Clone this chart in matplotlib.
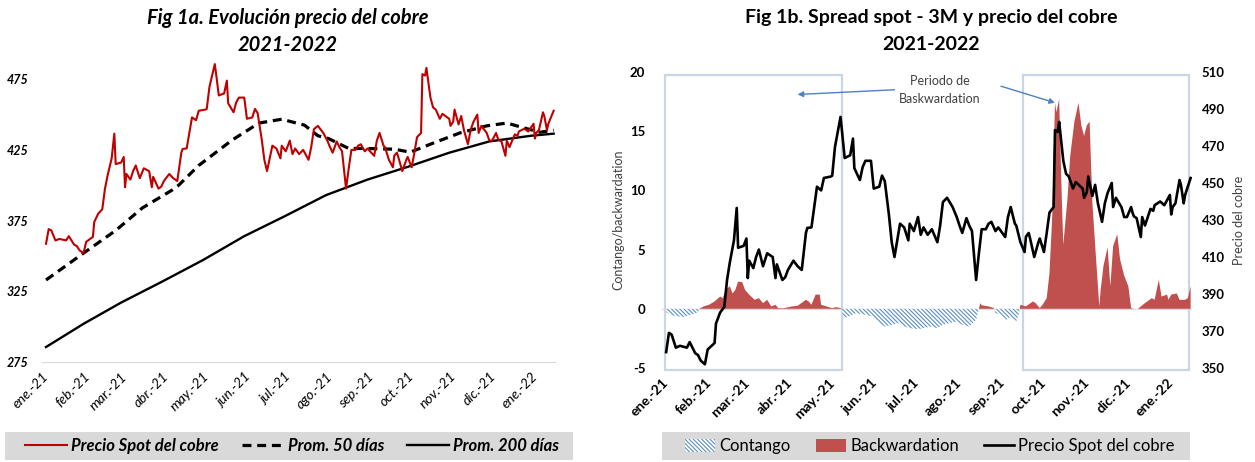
import matplotlib
matplotlib.use("Agg")
import matplotlib.pyplot as plt
import pandas as pd
from matplotlib.patches import Rectangle, Patch
from matplotlib.lines import Line2D

# ---------------- data ----------------
month_labels = ["ene.-21", "feb.-21", "mar.-21", "abr.-21", "may.-21", "jun.-21", "jul.-21",
                "ago.-21", "sep.-21", "oct.-21", "nov.-21", "dic.-21", "ene.-22"]

spot_dates = ["2021-01-04", "2021-01-06", "2021-01-08", "2021-01-11", "2021-01-14", "2021-01-19", "2021-01-21",
              "2021-01-25", "2021-01-27", "2021-01-29", "2021-02-01", "2021-02-03", "2021-02-08", "2021-02-09",
              "2021-02-12", "2021-02-15", "2021-02-17", "2021-02-19", "2021-02-22", "2021-02-24", "2021-02-25",
              "2021-03-01", "2021-03-03", "2021-03-04", "2021-03-05", "2021-03-08", "2021-03-10", "2021-03-12",
              "2021-03-15", "2021-03-18", "2021-03-22", "2021-03-24", "2021-03-25", "2021-03-29", "2021-03-31",
              "2021-04-02", "2021-04-06", "2021-04-09", "2021-04-12", "2021-04-15", "2021-04-16", "2021-04-19",
              "2021-04-21", "2021-04-23", "2021-04-26", "2021-04-28", "2021-05-03", "2021-05-04", "2021-05-06",
              "2021-05-10", "2021-05-11", "2021-05-13", "2021-05-17", "2021-05-19", "2021-05-20", "2021-05-24",
              "2021-05-26", "2021-05-28", "2021-06-01", "2021-06-03", "2021-06-07", "2021-06-09", "2021-06-11",
              "2021-06-14", "2021-06-16", "2021-06-18", "2021-06-22", "2021-06-25", "2021-06-28", "2021-06-29",
              "2021-07-02", "2021-07-05", "2021-07-07", "2021-07-09", "2021-07-12", "2021-07-15", "2021-07-19",
              "2021-07-21", "2021-07-23", "2021-07-26", "2021-07-30", "2021-08-02", "2021-08-04", "2021-08-06",
              "2021-08-09", "2021-08-11", "2021-08-13", "2021-08-16", "2021-08-18", "2021-08-20", "2021-08-23",
              "2021-08-25", "2021-08-27", "2021-08-30", "2021-09-01", "2021-09-06", "2021-09-08", "2021-09-10",
              "2021-09-13", "2021-09-14", "2021-09-17", "2021-09-20", "2021-09-21", "2021-09-23", "2021-09-24",
              "2021-09-27", "2021-09-30", "2021-10-01", "2021-10-04", "2021-10-06", "2021-10-08", "2021-10-11",
              "2021-10-12", "2021-10-14", "2021-10-15", "2021-10-18", "2021-10-20", "2021-10-22", "2021-10-25",
              "2021-10-27", "2021-11-01", "2021-11-02", "2021-11-04", "2021-11-05", "2021-11-08", "2021-11-10",
              "2021-11-12", "2021-11-15", "2021-11-17", "2021-11-19", "2021-11-22", "2021-11-23", "2021-11-25",
              "2021-11-29", "2021-12-01", "2021-12-03", "2021-12-06", "2021-12-07", "2021-12-08", "2021-12-10",
              "2021-12-13", "2021-12-14", "2021-12-16", "2021-12-20", "2021-12-22", "2021-12-23", "2021-12-27",
              "2021-12-30", "2022-01-03", "2022-01-04", "2022-01-05", "2022-01-07", "2022-01-10", "2022-01-11",
              "2022-01-13", "2022-01-14", "2022-01-18"]
spot_prices = [358.6, 369, 368, 361, 362, 361, 364,
               358, 357, 354, 352, 360, 363.5, 374,
               380, 383, 397.5, 407, 419, 436.5, 415,
               416, 420, 398.6, 408, 404, 410, 414,
               405, 412, 410, 398.6, 406, 397.6, 399,
               403, 408, 405, 403, 423, 425.7, 426,
               437, 448, 446, 452.7, 453.5, 454, 469.5,
               485.7, 478.6, 463.5, 465, 474, 458, 451.6,
               458.6, 462, 462, 447, 448, 454, 451,
               432.7, 418, 410, 428, 426, 419, 428,
               424, 431.6, 422, 426, 422, 425, 418,
               427, 439.7, 442, 437, 431.6, 427, 423,
               431, 427, 424, 397.6, 412, 425, 425,
               428, 429, 424, 426, 420.8, 431.6, 437,
               428, 427, 418, 412.7, 421, 423, 420,
               410, 418, 420, 412.7, 423, 434, 437,
               478.6, 477.6, 483, 462, 455, 453.5, 447,
               450.5, 447, 442, 445, 453.5, 443, 449,
               439, 429, 439, 444.6, 450, 437, 442,
               437, 431.6, 431.6, 437, 434, 432, 431,
               420.8, 431.6, 427, 436, 435, 438, 440,
               438, 443.5, 433, 437, 439, 451.6, 449,
               439, 443.5, 452.7]

ma50_dates = ["2021-01-04", "2021-02-01", "2021-02-25", "2021-03-17", "2021-04-08", "2021-04-13", "2021-04-28",
              "2021-05-23", "2021-06-12", "2021-06-29", "2021-07-16", "2021-07-26", "2021-08-03", "2021-08-18",
              "2021-09-01", "2021-09-21", "2021-10-03", "2021-10-20", "2021-11-09", "2021-11-29", "2021-12-14",
              "2021-12-29", "2022-01-08", "2022-01-18"]
ma50_values = [333, 352, 368, 384, 396.5, 400, 414,
               432, 444, 446.7, 442.5, 435, 433, 426,
               426, 425.5, 423.4, 429.8, 437, 442, 444,
               440, 437.5, 439]

ma200_dates = ["2021-01-04", "2021-02-01", "2021-03-01", "2021-04-01", "2021-05-01", "2021-06-01", "2021-07-01",
               "2021-08-01", "2021-09-01", "2021-10-01", "2021-11-01", "2021-12-01", "2022-01-01", "2022-01-18"]
ma200_values = [285.6, 302, 317, 332, 347, 364, 378,
                393, 404, 413, 423, 431, 435, 436.5]

spread_dates = ["2021-01-04", "2021-01-10", "2021-01-17", "2021-01-22", "2021-01-27", "2021-01-28", "2021-01-31",
                "2021-02-04", "2021-02-08", "2021-02-12", "2021-02-14", "2021-02-16", "2021-02-19", "2021-02-21",
                "2021-02-23", "2021-02-25", "2021-02-28", "2021-03-02", "2021-03-05", "2021-03-09", "2021-03-12",
                "2021-03-15", "2021-03-18", "2021-03-21", "2021-03-24", "2021-03-26", "2021-03-30", "2021-04-05",
                "2021-04-09", "2021-04-15", "2021-04-17", "2021-04-19", "2021-04-22", "2021-04-25", "2021-04-26",
                "2021-04-30", "2021-05-04", "2021-05-07", "2021-05-10", "2021-05-11", "2021-05-12", "2021-05-16",
                "2021-05-21", "2021-05-28", "2021-06-02", "2021-06-07", "2021-06-11", "2021-06-16", "2021-06-21",
                "2021-06-25", "2021-06-30", "2021-07-05", "2021-07-09", "2021-07-14", "2021-07-19", "2021-07-23",
                "2021-07-28", "2021-08-02", "2021-08-06", "2021-08-11", "2021-08-16", "2021-08-18", "2021-08-19",
                "2021-08-20", "2021-08-25", "2021-08-29", "2021-08-30", "2021-09-03", "2021-09-07", "2021-09-10",
                "2021-09-14", "2021-09-16", "2021-09-17", "2021-09-21", "2021-09-26", "2021-09-28", "2021-10-01",
                "2021-10-03", "2021-10-06", "2021-10-08", "2021-10-10", "2021-10-12", "2021-10-13", "2021-10-15",
                "2021-10-17", "2021-10-18", "2021-10-21", "2021-10-23", "2021-10-26", "2021-10-29", "2021-10-31",
                "2021-11-02", "2021-11-04", "2021-11-06", "2021-11-08", "2021-11-10", "2021-11-13", "2021-11-14",
                "2021-11-16", "2021-11-19", "2021-11-21", "2021-11-23", "2021-11-26", "2021-11-28", "2021-12-01",
                "2021-12-04", "2021-12-06", "2021-12-08", "2021-12-10", "2021-12-13", "2021-12-16", "2021-12-21",
                "2021-12-23", "2021-12-26", "2021-12-28", "2022-01-01", "2022-01-02", "2022-01-04", "2022-01-08",
                "2022-01-10", "2022-01-14", "2022-01-16", "2022-01-18"]
spread_values = [-0.3, -0.6, -0.7, -0.5, -0.3, 0.0, 0.2,
                 0.34, 0.62, 1.04, 0.9, 1.6, 1.9, 1.3,
                 1.6, 2.3, 2.25, 1.6, 1.2, 0.76, 0.9,
                 0.48, 0.76, 0.2, 0.34, 0.06, 0.05, 0.2,
                 0.25, 0.76, 0.62, 0.34, 1.2, 1.2, 0.34,
                 0.2, 0.06, 0.14, 0.06, 0.0, -0.8, -0.65,
                 -0.37, -0.5, -0.65, -1.2, -1.5, -1.35, -1.2,
                 -1.5, -1.64, -1.72, -1.64, -1.5, -1.64, -1.35,
                 -1.2, -1.07, -1.35, -1.5, -0.93, 0.0, 0.48,
                 0.3, 0.2, 0.06, -0.37, -0.5, -0.93, -0.65,
                 -1.07, -0.37, 0.34, 0.2, 0.62, 0.48, 0.06,
                 0.34, 0.9, 3.0, 7.8, 17.4, 16.6, 17.7,
                 9.0, 5.4, 9.3, 12.9, 15.8, 17.4, 15.5,
                 14.6, 15.5, 15.8, 9.0, 5.4, 0.2, 1.6,
                 3.6, 5.2, 1.9, 5.3, 6.3, 4.2, 2.8,
                 1.9, 0.06, 0.0, -0.1, 0.2, 0.48, 0.9,
                 0.76, 2.45, 1.04, 1.2, 0.76, 1.2, 1.3,
                 0.76, 0.76, 0.9, 1.9]

# highlighted periods (start, end)
period_starts = ["2021-01-03", "2021-09-19"]
period_ends = ["2021-05-11", "2022-01-17"]

# ---------------- style ----------------
plt.rcParams['font.family'] = ['Lato', 'DejaVu Sans']
plt.rcParams['hatch.linewidth'] = 0.8

RED = "#c00000"
BW_RED = "#c0504d"
CONT_BLUE = "#5b8fc2"
BOX = "#c9d6e6"
GRAY_LEG = "#d9d9d9"
HATCH = "\\" * 8

W, H = 1255, 462
fig = plt.figure(figsize=(W / 100, H / 100), dpi=100)

to_dt = pd.to_datetime
months = pd.date_range("2021-01-01", "2022-01-01", freq="MS")
xlim = (to_dt("2021-01-01"), to_dt("2022-01-19"))

# ---------------- left chart ----------------
axL = fig.add_axes([42 / W, 1 - 362 / H, 513 / W, (362 - 58) / H])
axL.plot(to_dt(spot_dates), spot_prices, color=RED, lw=1.5, zorder=3)
axL.plot(to_dt(ma50_dates), ma50_values, color="black", lw=2.3, ls=(0, (2.8, 1.8)), zorder=2)
axL.plot(to_dt(ma200_dates), ma200_values, color="black", lw=1.7, zorder=2)
axL.set_xlim(*xlim)
axL.set_ylim(275, 490)
axL.set_yticks([275, 325, 375, 425, 475])
axL.set_yticklabels([str(v) for v in [275, 325, 375, 425, 475]],
                    fontsize=9, fontweight="bold", fontstyle="italic")
axL.set_xticks(months)
axL.set_xticklabels(month_labels, rotation=45, ha="right", rotation_mode="anchor",
                    fontsize=10, fontstyle="italic")
axL.tick_params(axis="both", length=0)
axL.tick_params(axis="y", pad=10)
axL.tick_params(axis="x", pad=6)
for s in ["top", "right", "left"]:
    axL.spines[s].set_visible(False)
axL.spines["bottom"].set_color(GRAY_LEG)

fig.text(288 / W, 1 - 18 / H, "Fig 1a. Evolución precio del cobre", ha="center", va="center",
         fontsize=14.5, fontweight="bold", fontstyle="italic")
fig.text(288 / W, 1 - 45 / H, "2021-2022", ha="center", va="center",
         fontsize=14.5, fontweight="bold", fontstyle="italic")

fig.add_artist(Rectangle((5 / W, 2 / H), 568 / W, 28 / H, transform=fig.transFigure,
                         facecolor=GRAY_LEG, edgecolor="none", zorder=0))
hL = [Line2D([], [], color=RED, lw=1.5),
      Line2D([], [], color="black", lw=2.3, ls=(0, (2.8, 1.8))),
      Line2D([], [], color="black", lw=1.7)]
fig.legend(hL, ["Precio Spot del cobre", "Prom. 50 días", "Prom. 200 días"],
           loc="center", bbox_to_anchor=(292 / W, 16 / H), ncol=3, frameon=False,
           prop=dict(weight="bold", style="italic", size=12),
           handlelength=2.5, handletextpad=0.25, columnspacing=1.4)

# ---------------- right chart ----------------
axR = fig.add_axes([662 / W, 1 - 368 / H, 530 / W, 296 / H])
sd = to_dt(spread_dates)
sv = pd.Series(spread_values).values
axR.fill_between(sd, sv, 0, where=sv >= 0, interpolate=True, color=BW_RED, lw=0, zorder=2)
axR.fill_between(sd, sv, 0, where=sv <= 0, interpolate=True, facecolor="white",
                 edgecolor=CONT_BLUE, hatch=HATCH, lw=0, zorder=2)
axR.axhline(0, color=GRAY_LEG, lw=0.8, zorder=1)
axR.set_xlim(*xlim)
axR.set_ylim(-5, 20)
axR.set_yticks([-5, 0, 5, 10, 15, 20])
axR.set_yticklabels(["-5", "0", "5", "10", "15", "20"], fontsize=9.5, fontweight="bold")
axR.set_xticks(months)
axR.set_xticklabels(month_labels, rotation=45, ha="right", rotation_mode="anchor",
                    fontsize=10, fontweight="bold")
axR.tick_params(axis="both", length=0)
axR.tick_params(axis="y", pad=12)
axR.tick_params(axis="x", pad=6)
axR.set_ylabel("Contango/backwardation", fontsize=9, color="#404040", labelpad=4)
for s in axR.spines.values():
    s.set_visible(False)

for a, b in zip(period_starts, period_ends):
    x0 = to_dt(a)
    x1 = to_dt(b)
    axR.add_patch(Rectangle((x0, -5.15), x1 - x0, 24.9, fill=False, edgecolor=BOX,
                            lw=1.6, clip_on=False, zorder=1))

axR.text(to_dt("2021-07-21"), 18.5, "Periodo de\nBaskwardation", ha="center", va="center",
         fontsize=9, color="#404040", linespacing=1.6)
axR.annotate("", xy=(to_dt("2021-04-09"), 18.1), xytext=(to_dt("2021-06-18"), 18.5),
             arrowprops=dict(arrowstyle="-|>", color="#4f81bd", lw=1, mutation_scale=8,
                             shrinkA=0, shrinkB=0))
axR.annotate("", xy=(to_dt("2021-10-12"), 17.4), xytext=(to_dt("2021-09-03"), 18.8),
             arrowprops=dict(arrowstyle="-|>", color="#4f81bd", lw=1, mutation_scale=8,
                             shrinkA=0, shrinkB=0))

axR2 = axR.twinx()
axR2.plot(to_dt(spot_dates), spot_prices, color="black", lw=1.9, zorder=3)
axR2.set_ylim(350, 510)
axR2.set_yticks(list(range(350, 511, 20)))
axR2.set_yticklabels([str(v) for v in range(350, 511, 20)], fontsize=9.5, fontweight="bold")
axR2.tick_params(axis="y", length=0, pad=7)
axR2.set_ylabel("Precio del cobre", fontsize=9, color="#404040", labelpad=6)
for s in axR2.spines.values():
    s.set_visible(False)
axR2.set_xlim(*xlim)

fig.text(931 / W, 1 - 18 / H, "Fig 1b. Spread spot - 3M y precio del cobre", ha="center",
         va="center", fontsize=14, fontweight="bold")
fig.text(931 / W, 1 - 45 / H, "2021-2022", ha="center", va="center",
         fontsize=14, fontweight="bold")

fig.add_artist(Rectangle((662 / W, 2 / H), 528 / W, 28 / H, transform=fig.transFigure,
                         facecolor=GRAY_LEG, edgecolor="none", zorder=0))
hR = [Patch(facecolor="white", edgecolor=CONT_BLUE, hatch=HATCH, lw=0),
      Patch(facecolor=BW_RED, edgecolor="none"),
      Line2D([], [], color="black", lw=1.9)]
fig.legend(hR, ["Contango", "Backwardation", "Precio Spot del cobre"],
           loc="center", bbox_to_anchor=(930 / W, 16 / H), ncol=3, frameon=False,
           prop=dict(size=12), handlelength=1.8, handleheight=0.8,
           handletextpad=0.25, columnspacing=1.5)

fig.savefig("out.png", dpi=100)
